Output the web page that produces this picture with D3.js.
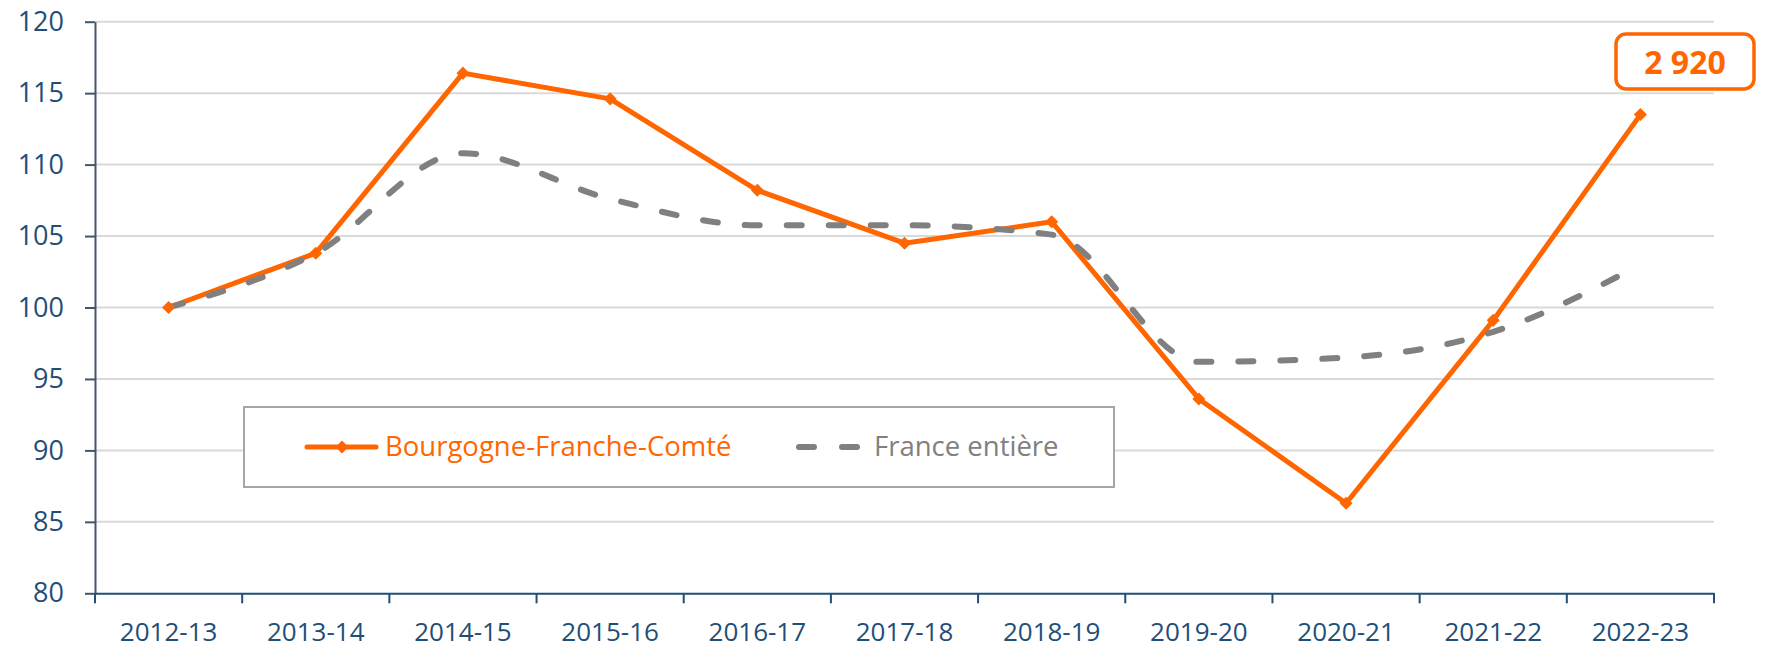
<!DOCTYPE html>
<meta charset="utf-8">
<html>
<head>
<style>
  body { margin: 0; background: #fff; }
  text { font-family: "Open Sans", sans-serif; }
</style>
</head>
<body>
<div id="chart"></div>
<script src="https://d3js.org/d3.v7.min.js"></script>
<script>

// data
var years = ["2012-13", "2013-14", "2014-15", "2015-16", "2016-17", "2017-18",
             "2018-19", "2019-20", "2020-21", "2021-22", "2022-23"];
var bfc = [100, 103.8, 116.4, 114.6, 108.2, 104.5, 106.0, 93.6, 86.3, 99.1, 113.5];
var france = [100, 103.8, 110.8, 107.6, 105.75, 105.75, 105.1, 96.2, 96.5, 98.3, 103.0];
var yTicks = [80, 85, 90, 95, 100, 105, 110, 115, 120];
var lastLabel = "2 920";
var seriesNames = ["Bourgogne-Franche-Comté", "France entière"];

var orange = "#ff6600", grey = "#808080", axisBlue = "#1f4e79";

var W = 1768, H = 650;
var margin = {top: 21.7, right: 54, bottom: 56.7, left: 95},
    width = W - margin.left - margin.right,
    height = H - margin.top - margin.bottom;

var svg = d3.select("#chart")
  .append("svg")
    .attr("width", W)
    .attr("height", H)
  .append("g")
    .attr("transform", "translate(" + margin.left + "," + margin.top + ")");

var x = d3.scaleBand()
  .domain(years)
  .range([0, width]);

var y = d3.scaleLinear()
  .domain([80, 120])
  .range([height, 0]);

// gridlines
svg.append("g")
  .selectAll("line")
  .data(yTicks.slice(1))
  .enter().append("line")
    .attr("x1", 0)
    .attr("x2", width)
    .attr("y1", function(d) { return y(d); })
    .attr("y2", function(d) { return y(d); })
    .attr("stroke", "#d9d9d9")
    .attr("stroke-width", 2);

// y axis
var yAxis = svg.append("g")
  .call(d3.axisLeft(y).tickValues(yTicks).tickSize(10).tickSizeOuter(0).tickPadding(21));
yAxis.select(".domain").attr("stroke", "#44546a").attr("stroke-width", 2);
yAxis.selectAll(".tick line").attr("stroke", "#44546a").attr("stroke-width", 2);
yAxis.selectAll("text")
  .style("font-family", "Open Sans")
  .style("font-size", "27px")
  .attr("fill", axisBlue);

// x axis: labels centred in bands, ticks on band edges
var xAxis = svg.append("g")
  .attr("transform", "translate(0," + height + ")")
  .call(d3.axisBottom(x).tickSize(0).tickPadding(29));
xAxis.select(".domain").attr("stroke", axisBlue).attr("stroke-width", 2);
xAxis.selectAll("text")
  .style("font-family", "Open Sans")
  .style("font-size", "26px")
  .attr("fill", axisBlue);

var edges = d3.range(years.length + 1);
var edge = d3.scaleLinear().domain([0, years.length]).range([0, width]);
xAxis.selectAll(".edge")
  .data(edges)
  .enter().append("line")
    .attr("class", "edge")
    .attr("x1", function(d) { return edge(d); })
    .attr("x2", function(d) { return edge(d); })
    .attr("y1", 0)
    .attr("y2", 10)
    .attr("stroke", axisBlue)
    .attr("stroke-width", 2);

function cx(i) { return x(years[i]) + x.bandwidth() / 2; }

// France entière: smoothed dashed line
var lineSmooth = d3.line()
  .x(function(d, i) { return cx(i); })
  .y(function(d) { return y(d); })
  .curve(d3.curveMonotoneX);

// Bourgogne-Franche-Comté: straight line with diamonds
var lineStraight = d3.line()
  .x(function(d, i) { return cx(i); })
  .y(function(d) { return y(d); });

svg.append("path")
  .datum(bfc)
  .attr("d", lineStraight)
  .attr("fill", "none")
  .attr("stroke", orange)
  .attr("stroke-width", 5)
  .attr("stroke-linejoin", "round");

svg.append("path")
  .datum(france)
  .attr("d", lineSmooth)
  .attr("fill", "none")
  .attr("stroke", grey)
  .attr("stroke-width", 6)
  .attr("stroke-linecap", "round")
  .attr("stroke-dasharray", "15,27");

var diamond = d3.symbol().type(d3.symbolSquare).size(85);
svg.append("g")
  .selectAll("path")
  .data(bfc)
  .enter().append("path")
    .attr("d", diamond)
    .attr("transform", function(d, i) { return "translate(" + cx(i) + "," + y(d) + ") rotate(45)"; })
    .attr("fill", orange);

// label box for the last value
var bx = 1616 - margin.left, by = 34 - margin.top;
svg.append("rect")
  .attr("x", bx)
  .attr("y", by)
  .attr("width", 138)
  .attr("height", 55)
  .attr("rx", 10)
  .attr("fill", "#fff")
  .attr("stroke", orange)
  .attr("stroke-width", 3.5);
svg.append("text")
  .attr("x", bx + 69)
  .attr("y", by + 40)
  .attr("text-anchor", "middle")
  .style("font-size", "32px")
  .style("font-weight", "bold")
  .attr("fill", orange)
  .text(lastLabel);

// legend
var lg = svg.append("g")
  .attr("transform", "translate(" + (244 - margin.left) + "," + (407 - margin.top) + ")");
lg.append("rect")
  .attr("width", 870)
  .attr("height", 80)
  .attr("fill", "#fff")
  .attr("stroke", "#a6a6a6")
  .attr("stroke-width", 2);
lg.append("line")
  .attr("x1", 63).attr("x2", 132)
  .attr("y1", 40).attr("y2", 40)
  .attr("stroke", orange)
  .attr("stroke-width", 5)
  .attr("stroke-linecap", "round");
lg.append("path")
  .attr("d", diamond)
  .attr("transform", "translate(98,40) rotate(45)")
  .attr("fill", orange);
lg.append("text")
  .attr("x", 141)
  .attr("y", 49)
  .style("font-size", "27.5px")
  .attr("fill", orange)
  .text(seriesNames[0]);
lg.append("line")
  .attr("x1", 555).attr("x2", 614)
  .attr("y1", 40).attr("y2", 40)
  .attr("stroke", grey)
  .attr("stroke-width", 6)
  .attr("stroke-linecap", "round")
  .attr("stroke-dasharray", "15,28");
lg.append("text")
  .attr("x", 630)
  .attr("y", 49)
  .style("font-size", "27.5px")
  .attr("fill", grey)
  .text(seriesNames[1]);

</script>
</body>
</html>
